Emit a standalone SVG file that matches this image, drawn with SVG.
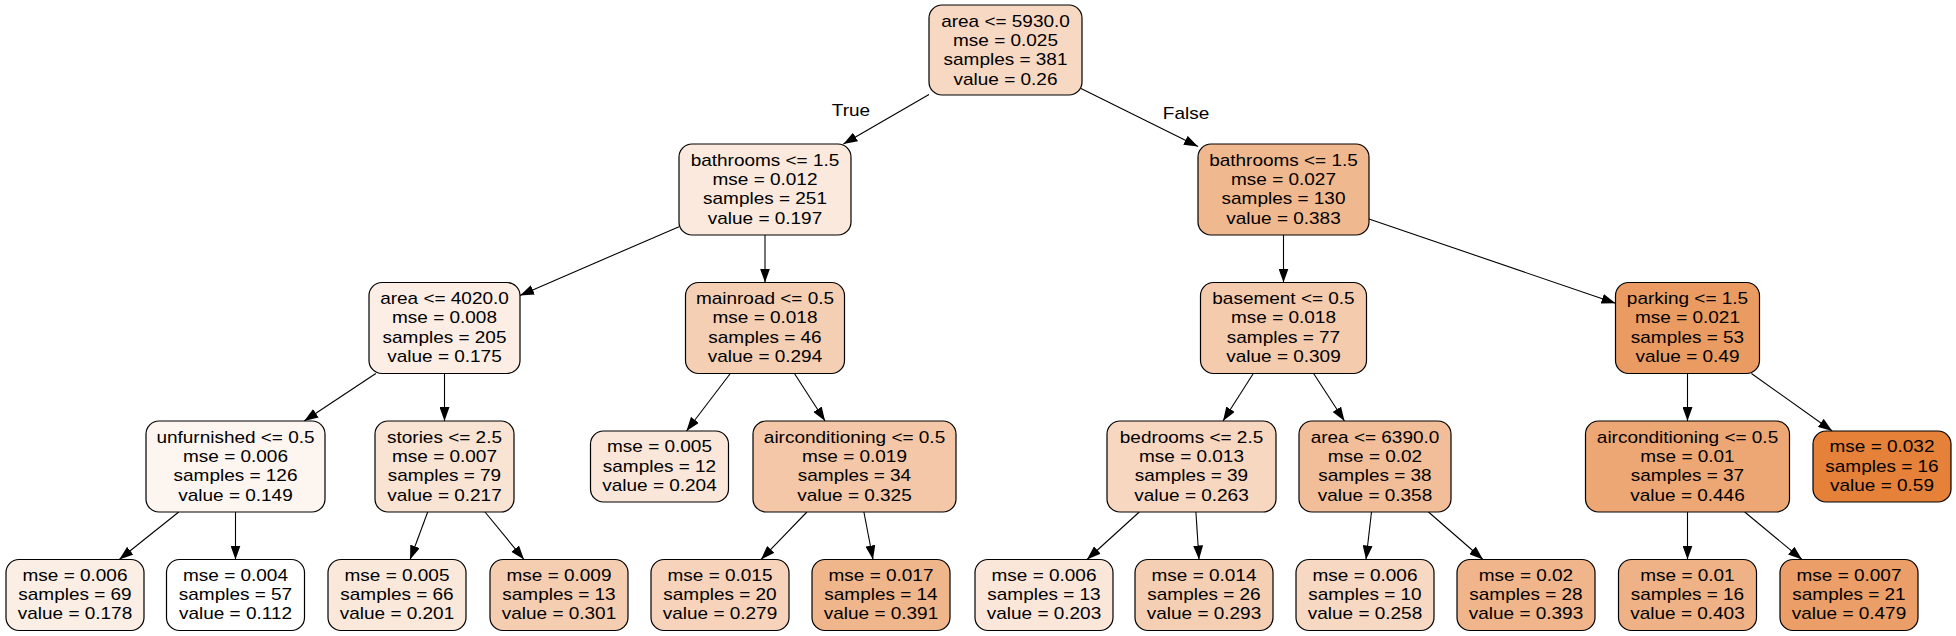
<svg xmlns="http://www.w3.org/2000/svg" width="1956" height="636" viewBox="0 0 1956 636">
<style>
.n{stroke:#000;stroke-width:1.2}
.t{font-family:"Liberation Sans",Arial,sans-serif;font-size:16.8px;fill:#000;text-anchor:middle}
.e{stroke:#000;stroke-width:1.1;fill:none;marker-end:url(#ah)}
</style>
<defs>
<marker id="ah" markerWidth="14" markerHeight="10" refX="14" refY="5" orient="auto" markerUnits="userSpaceOnUse"><path d="M0,0 L14,5 L0,10 z" fill="#000"/></marker>
</defs>
<rect width="1956" height="636" fill="#fff"/>
<g id="connectors">
<line class="e" x1="929" y1="94.4" x2="843.4" y2="144"/>
<line class="e" x1="1081" y1="88.4" x2="1198" y2="146.6"/>
<line class="e" x1="679" y1="226.7" x2="520" y2="295.4"/>
<line class="e" x1="765" y1="235" x2="765" y2="282.5"/>
<line class="e" x1="1283.5" y1="235" x2="1283.5" y2="282.5"/>
<line class="e" x1="1369" y1="218.9" x2="1615.5" y2="303.3"/>
<line class="e" x1="375.8" y1="373.5" x2="304.2" y2="421"/>
<line class="e" x1="444.5" y1="373.5" x2="444.5" y2="421"/>
<line class="e" x1="730.3" y1="373.5" x2="686.5" y2="431"/>
<line class="e" x1="794.4" y1="373.5" x2="825.1" y2="421"/>
<line class="e" x1="1253.3" y1="373.5" x2="1223" y2="421"/>
<line class="e" x1="1313.6" y1="373.5" x2="1344.5" y2="421"/>
<line class="e" x1="1687.5" y1="373.5" x2="1687.5" y2="421"/>
<line class="e" x1="1751.4" y1="373.5" x2="1832.2" y2="431"/>
<line class="e" x1="178.7" y1="512" x2="119.3" y2="559.5"/>
<line class="e" x1="235.5" y1="512" x2="235.5" y2="559.5"/>
<line class="e" x1="427.7" y1="512" x2="410.1" y2="559.5"/>
<line class="e" x1="485" y1="512" x2="524" y2="559.5"/>
<line class="e" x1="806.9" y1="512" x2="761" y2="559.5"/>
<line class="e" x1="863.9" y1="512" x2="873" y2="559.5"/>
<line class="e" x1="1139.3" y1="512" x2="1087" y2="559.5"/>
<line class="e" x1="1195.9" y1="512" x2="1199" y2="559.5"/>
<line class="e" x1="1371.5" y1="512" x2="1366" y2="559.5"/>
<line class="e" x1="1428.5" y1="512" x2="1483" y2="559.5"/>
<line class="e" x1="1687.5" y1="512" x2="1687.5" y2="559.5"/>
<line class="e" x1="1744.7" y1="512" x2="1802" y2="559.5"/>
<text class="t" transform="translate(851 0) scale(1.13 1)" x="0" y="116">True</text>
<text class="t" transform="translate(1186 0) scale(1.13 1)" x="0" y="119">False</text>
</g>
<g id="n0"><rect class="n" x="929" y="5" width="153" height="90" rx="13" fill="#f7d8c2"/><text class="t" transform="translate(1005.5 0) scale(1.13 1)"><tspan x="0" y="26.7">area &lt;= 5930.0</tspan><tspan x="0" y="46">mse = 0.025</tspan><tspan x="0" y="65.3">samples = 381</tspan><tspan x="0" y="84.6">value = 0.26</tspan></text></g>
<g id="n1"><rect class="n" x="679" y="144" width="172" height="91" rx="13" fill="#fae9dc"/><text class="t" transform="translate(765 0) scale(1.13 1)"><tspan x="0" y="165.7">bathrooms &lt;= 1.5</tspan><tspan x="0" y="185">mse = 0.012</tspan><tspan x="0" y="204.3">samples = 251</tspan><tspan x="0" y="223.6">value = 0.197</tspan></text></g>
<g id="n2"><rect class="n" x="1198" y="144" width="171" height="91" rx="13" fill="#f0b88f"/><text class="t" transform="translate(1283.5 0) scale(1.13 1)"><tspan x="0" y="165.7">bathrooms &lt;= 1.5</tspan><tspan x="0" y="185">mse = 0.027</tspan><tspan x="0" y="204.3">samples = 130</tspan><tspan x="0" y="223.6">value = 0.383</tspan></text></g>
<g id="n3"><rect class="n" x="369" y="282.5" width="151" height="91" rx="13" fill="#fceee5"/><text class="t" transform="translate(444.5 0) scale(1.13 1)"><tspan x="0" y="304.2">area &lt;= 4020.0</tspan><tspan x="0" y="323.5">mse = 0.008</tspan><tspan x="0" y="342.8">samples = 205</tspan><tspan x="0" y="362.1">value = 0.175</tspan></text></g>
<g id="n4"><rect class="n" x="685.5" y="282.5" width="159" height="91" rx="13" fill="#f5cfb4"/><text class="t" transform="translate(765 0) scale(1.13 1)"><tspan x="0" y="304.2">mainroad &lt;= 0.5</tspan><tspan x="0" y="323.5">mse = 0.018</tspan><tspan x="0" y="342.8">samples = 46</tspan><tspan x="0" y="362.1">value = 0.294</tspan></text></g>
<g id="n5"><rect class="n" x="1200.5" y="282.5" width="166" height="91" rx="13" fill="#f4cbad"/><text class="t" transform="translate(1283.5 0) scale(1.13 1)"><tspan x="0" y="304.2">basement &lt;= 0.5</tspan><tspan x="0" y="323.5">mse = 0.018</tspan><tspan x="0" y="342.8">samples = 77</tspan><tspan x="0" y="362.1">value = 0.309</tspan></text></g>
<g id="n6"><rect class="n" x="1615.5" y="282.5" width="144" height="91" rx="13" fill="#ea9b62"/><text class="t" transform="translate(1687.5 0) scale(1.13 1)"><tspan x="0" y="304.2">parking &lt;= 1.5</tspan><tspan x="0" y="323.5">mse = 0.021</tspan><tspan x="0" y="342.8">samples = 53</tspan><tspan x="0" y="362.1">value = 0.49</tspan></text></g>
<g id="n7"><rect class="n" x="146" y="421" width="179" height="91" rx="13" fill="#fdf5f0"/><text class="t" transform="translate(235.5 0) scale(1.13 1)"><tspan x="0" y="442.7">unfurnished &lt;= 0.5</tspan><tspan x="0" y="462">mse = 0.006</tspan><tspan x="0" y="481.3">samples = 126</tspan><tspan x="0" y="500.6">value = 0.149</tspan></text></g>
<g id="n8"><rect class="n" x="375" y="421" width="139" height="91" rx="13" fill="#f9e3d3"/><text class="t" transform="translate(444.5 0) scale(1.13 1)"><tspan x="0" y="442.7">stories &lt;= 2.5</tspan><tspan x="0" y="462">mse = 0.007</tspan><tspan x="0" y="481.3">samples = 79</tspan><tspan x="0" y="500.6">value = 0.217</tspan></text></g>
<g id="n9"><rect class="n" x="590.5" y="431" width="138" height="71" rx="13" fill="#fae7d9"/><text class="t" transform="translate(659.5 0) scale(1.13 1)"><tspan x="0" y="452.4">mse = 0.005</tspan><tspan x="0" y="471.7">samples = 12</tspan><tspan x="0" y="491">value = 0.204</tspan></text></g>
<g id="n10"><rect class="n" x="753" y="421" width="203" height="91" rx="13" fill="#f3c7a7"/><text class="t" transform="translate(854.5 0) scale(1.13 1)"><tspan x="0" y="442.7">airconditioning &lt;= 0.5</tspan><tspan x="0" y="462">mse = 0.019</tspan><tspan x="0" y="481.3">samples = 34</tspan><tspan x="0" y="500.6">value = 0.325</tspan></text></g>
<g id="n11"><rect class="n" x="1107" y="421" width="169" height="91" rx="13" fill="#f7d7c0"/><text class="t" transform="translate(1191.5 0) scale(1.13 1)"><tspan x="0" y="442.7">bedrooms &lt;= 2.5</tspan><tspan x="0" y="462">mse = 0.013</tspan><tspan x="0" y="481.3">samples = 39</tspan><tspan x="0" y="500.6">value = 0.263</tspan></text></g>
<g id="n12"><rect class="n" x="1299" y="421" width="152" height="91" rx="13" fill="#f2be99"/><text class="t" transform="translate(1375 0) scale(1.13 1)"><tspan x="0" y="442.7">area &lt;= 6390.0</tspan><tspan x="0" y="462">mse = 0.02</tspan><tspan x="0" y="481.3">samples = 38</tspan><tspan x="0" y="500.6">value = 0.358</tspan></text></g>
<g id="n13"><rect class="n" x="1585.5" y="421" width="204" height="91" rx="13" fill="#eda775"/><text class="t" transform="translate(1687.5 0) scale(1.13 1)"><tspan x="0" y="442.7">airconditioning &lt;= 0.5</tspan><tspan x="0" y="462">mse = 0.01</tspan><tspan x="0" y="481.3">samples = 37</tspan><tspan x="0" y="500.6">value = 0.446</tspan></text></g>
<g id="n14"><rect class="n" x="1813" y="431" width="138" height="71" rx="13" fill="#e58139"/><text class="t" transform="translate(1882 0) scale(1.13 1)"><tspan x="0" y="452.4">mse = 0.032</tspan><tspan x="0" y="471.7">samples = 16</tspan><tspan x="0" y="491">value = 0.59</tspan></text></g>
<g id="n15"><rect class="n" x="6" y="559.5" width="138" height="71" rx="13" fill="#fbeee4"/><text class="t" transform="translate(75 0) scale(1.13 1)"><tspan x="0" y="580.9">mse = 0.006</tspan><tspan x="0" y="600.2">samples = 69</tspan><tspan x="0" y="619.5">value = 0.178</tspan></text></g>
<g id="n16"><rect class="n" x="166.5" y="559.5" width="138" height="71" rx="13" fill="#ffffff"/><text class="t" transform="translate(235.5 0) scale(1.13 1)"><tspan x="0" y="580.9">mse = 0.004</tspan><tspan x="0" y="600.2">samples = 57</tspan><tspan x="0" y="619.5">value = 0.112</tspan></text></g>
<g id="n17"><rect class="n" x="328" y="559.5" width="138" height="71" rx="13" fill="#fae8db"/><text class="t" transform="translate(397 0) scale(1.13 1)"><tspan x="0" y="580.9">mse = 0.005</tspan><tspan x="0" y="600.2">samples = 66</tspan><tspan x="0" y="619.5">value = 0.201</tspan></text></g>
<g id="n18"><rect class="n" x="490" y="559.5" width="138" height="71" rx="13" fill="#f5cdb1"/><text class="t" transform="translate(559 0) scale(1.13 1)"><tspan x="0" y="580.9">mse = 0.009</tspan><tspan x="0" y="600.2">samples = 13</tspan><tspan x="0" y="619.5">value = 0.301</tspan></text></g>
<g id="n19"><rect class="n" x="651" y="559.5" width="138" height="71" rx="13" fill="#f6d3ba"/><text class="t" transform="translate(720 0) scale(1.13 1)"><tspan x="0" y="580.9">mse = 0.015</tspan><tspan x="0" y="600.2">samples = 20</tspan><tspan x="0" y="619.5">value = 0.279</tspan></text></g>
<g id="n20"><rect class="n" x="812" y="559.5" width="138" height="71" rx="13" fill="#f0b68b"/><text class="t" transform="translate(881 0) scale(1.13 1)"><tspan x="0" y="580.9">mse = 0.017</tspan><tspan x="0" y="600.2">samples = 14</tspan><tspan x="0" y="619.5">value = 0.391</tspan></text></g>
<g id="n21"><rect class="n" x="975" y="559.5" width="138" height="71" rx="13" fill="#fae7da"/><text class="t" transform="translate(1044 0) scale(1.13 1)"><tspan x="0" y="580.9">mse = 0.006</tspan><tspan x="0" y="600.2">samples = 13</tspan><tspan x="0" y="619.5">value = 0.203</tspan></text></g>
<g id="n22"><rect class="n" x="1135" y="559.5" width="138" height="71" rx="13" fill="#f5cfb4"/><text class="t" transform="translate(1204 0) scale(1.13 1)"><tspan x="0" y="580.9">mse = 0.014</tspan><tspan x="0" y="600.2">samples = 26</tspan><tspan x="0" y="619.5">value = 0.293</tspan></text></g>
<g id="n23"><rect class="n" x="1296" y="559.5" width="138" height="71" rx="13" fill="#f7d8c2"/><text class="t" transform="translate(1365 0) scale(1.13 1)"><tspan x="0" y="580.9">mse = 0.006</tspan><tspan x="0" y="600.2">samples = 10</tspan><tspan x="0" y="619.5">value = 0.258</tspan></text></g>
<g id="n24"><rect class="n" x="1457" y="559.5" width="138" height="71" rx="13" fill="#f0b58b"/><text class="t" transform="translate(1526 0) scale(1.13 1)"><tspan x="0" y="580.9">mse = 0.02</tspan><tspan x="0" y="600.2">samples = 28</tspan><tspan x="0" y="619.5">value = 0.393</tspan></text></g>
<g id="n25"><rect class="n" x="1618.5" y="559.5" width="138" height="71" rx="13" fill="#efb286"/><text class="t" transform="translate(1687.5 0) scale(1.13 1)"><tspan x="0" y="580.9">mse = 0.01</tspan><tspan x="0" y="600.2">samples = 16</tspan><tspan x="0" y="619.5">value = 0.403</tspan></text></g>
<g id="n26"><rect class="n" x="1780" y="559.5" width="138" height="71" rx="13" fill="#eb9e67"/><text class="t" transform="translate(1849 0) scale(1.13 1)"><tspan x="0" y="580.9">mse = 0.007</tspan><tspan x="0" y="600.2">samples = 21</tspan><tspan x="0" y="619.5">value = 0.479</tspan></text></g>
</svg>
